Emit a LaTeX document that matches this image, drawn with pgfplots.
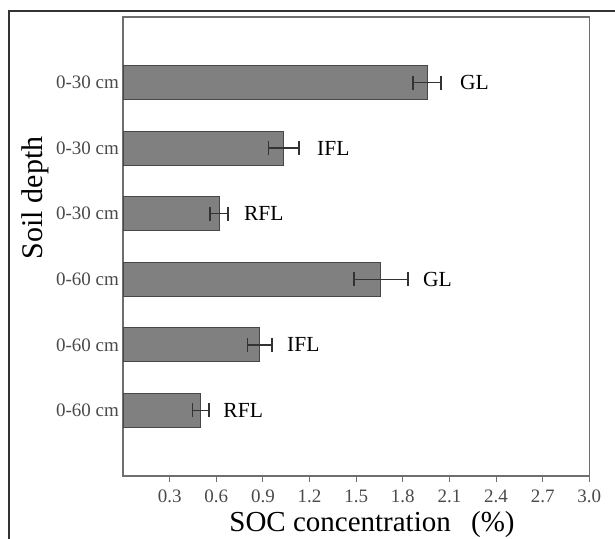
\documentclass[border=0pt]{standalone}
\usepackage{pgfplots}
\pgfplotsset{compat=1.18}
\usepackage{fontspec}
\setmainfont{Liberation Serif}
\definecolor{barfill}{HTML}{808080}
\definecolor{axgray}{HTML}{6E6E6E}
\definecolor{ticktext}{HTML}{4A4A4A}
\begin{document}
\begin{tikzpicture}[x=1pt,y=1pt]
\useasboundingbox (-123,-62) rectangle (492,476);
\clip (-123,-62) rectangle (492,476);
\draw[line width=1.2pt, color=black!80] (-114,-80) -- (-114,465) -- (510,465);
\node[anchor=base west, inner sep=0pt, font=\itshape\fontsize{26}{26}\selectfont] at (-114,481) {g.\,5).};
\begin{axis}[
  at={(0,0)}, anchor=south west,
  scale only axis, width=466.3pt, height=459pt,
  xmin=0, xmax=3, ymin=-1, ymax=6,
  xtick={0.3,0.6,0.9,1.2,1.5,1.8,2.1,2.4,2.7,3.0},
  xticklabels={0.3,0.6,0.9,1.2,1.5,1.8,2.1,2.4,2.7,3.0},
  ytick={0,1,2,3,4,5},
  yticklabels={0-60 cm,0-60 cm,0-60 cm,0-30 cm,0-30 cm,0-30 cm},
  tick align=outside, xtick pos=lower, ytick pos=left,
  major tick length=6pt,
  axis line style={draw=axgray, line width=1.3pt},
  xtick style={draw=axgray, line width=1pt},
  ytick style={draw=none},
  tick label style={font=\fontsize{19}{19}\selectfont, color=ticktext, inner sep=0pt},
  xticklabel style={anchor=north, yshift=-7.5pt},
  yticklabel style={anchor=east, xshift=2pt},
  xlabel={SOC concentration\hspace{0.45em} (\%)},
  xlabel style={at={(axis description cs:0.534,-0.1214)}, anchor=base, font=\fontsize{29}{29}\selectfont},
  ylabel={Soil depth},
  ylabel style={at={(axis description cs:-0.1737,0.606)}, anchor=base, font=\fontsize{30}{30}\selectfont},
]
\addplot[xbar, bar width=34pt, fill=barfill, draw=black!72, line width=0.9pt,
  error bars/.cd, x dir=both, x explicit, error mark=|,
  error bar style={line width=1.3pt, draw=black!80},
  error mark options={line width=1.5pt, mark size=7pt, draw=black!80}]
coordinates {
 (0.50,0) +- (0.052,0)
 (0.88,1) +- (0.080,0)
 (1.659,2) +- (0.174,0)
 (0.618,3) +- (0.059,0)
 (1.035,4) +- (0.098,0)
 (1.956,5) +- (0.090,0)
};
\node[anchor=west, inner sep=0pt, font=\fontsize{21.5}{21.5}\selectfont] at (axis cs:2.168,5) {GL};
\node[anchor=west, inner sep=0pt, font=\fontsize{21.5}{21.5}\selectfont] at (axis cs:1.248,4) {IFL};
\node[anchor=west, inner sep=0pt, font=\fontsize{21.5}{21.5}\selectfont] at (axis cs:0.778,3) {RFL};
\node[anchor=west, inner sep=0pt, font=\fontsize{21.5}{21.5}\selectfont] at (axis cs:1.930,2) {GL};
\node[anchor=west, inner sep=0pt, font=\fontsize{21.5}{21.5}\selectfont] at (axis cs:1.055,1) {IFL};
\node[anchor=west, inner sep=0pt, font=\fontsize{21.5}{21.5}\selectfont] at (axis cs:0.645,0) {RFL};
\end{axis}
\end{tikzpicture}
\end{document}
